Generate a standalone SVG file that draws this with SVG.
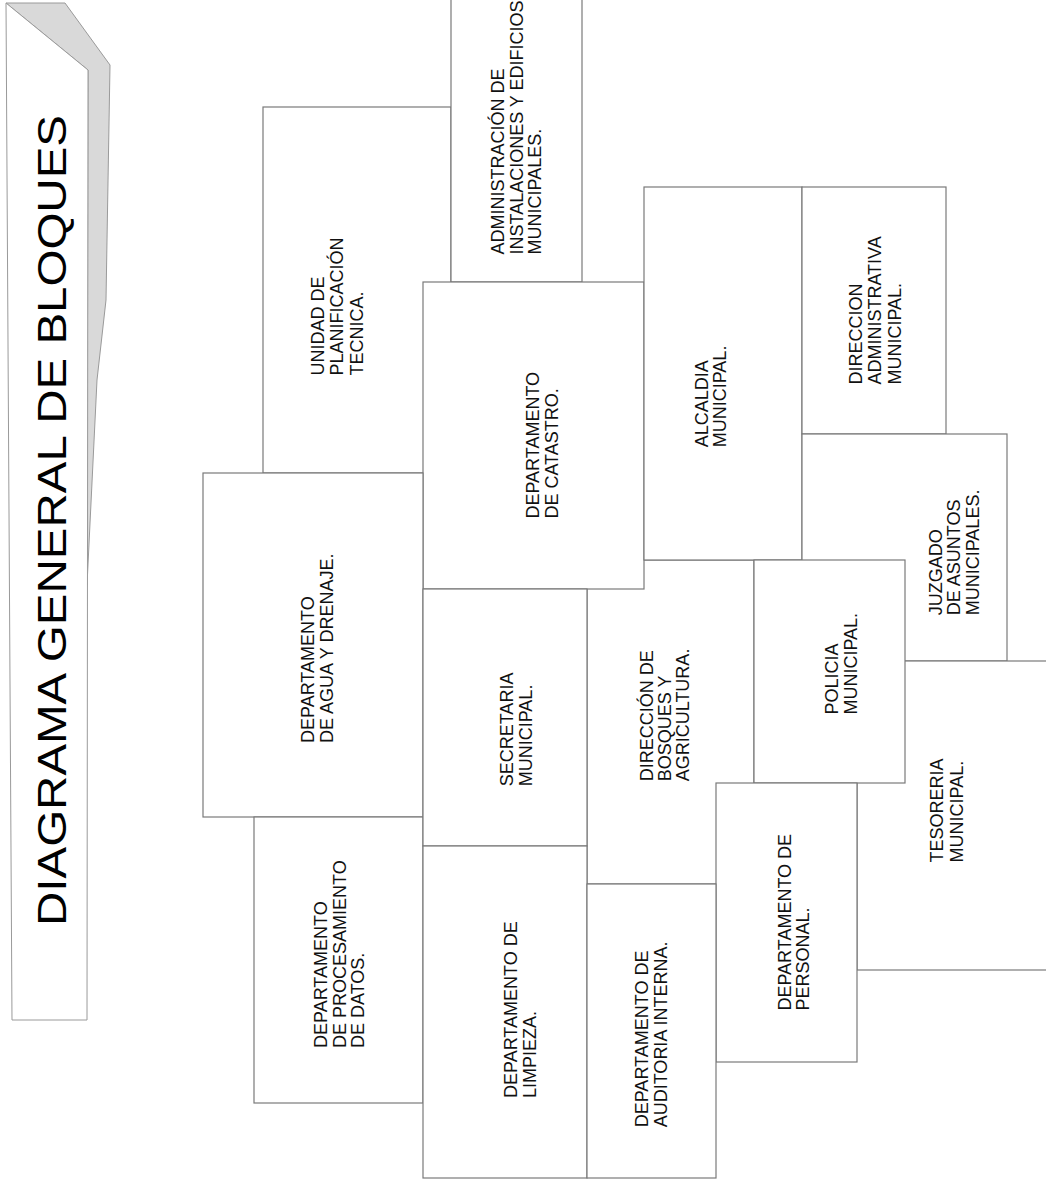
<svg xmlns="http://www.w3.org/2000/svg" width="1046" height="1184" viewBox="0 0 1046 1184">
<style>
.box{fill:#ffffff;stroke:#7a7a7a;stroke-width:1.2}
.lbl{font-family:"Liberation Sans",Arial,sans-serif;font-size:18px;fill:#111111}
.ttl{font-family:"Liberation Sans",Arial,sans-serif;font-size:41px;fill:#000000}
</style>
<rect x="0" y="0" width="1046" height="1184" fill="#ffffff"/>
<g id="title">
<polygon points="6,3 65,3 110,65 106,300 97,380 87,585 88,70" fill="#d9d9d9" stroke="#9a9a9a" stroke-width="1"/>
<polygon points="6,3 88,70 87,1020 12,1020" fill="#ffffff" stroke="#9a9a9a" stroke-width="1"/>
<text class="ttl" transform="translate(66,926) rotate(-90)" textLength="811" lengthAdjust="spacingAndGlyphs">DIAGRAMA GENERAL DE BLOQUES</text>
</g>
<g id="connectors"></g>
<g id="unidad">
<rect class="box" x="263" y="107" width="188" height="366"/>
<text class="lbl" transform="translate(323.5,375.5) rotate(-90)"><tspan x="0">UNIDAD DE</tspan><tspan x="0" dy="19.5">PLANIFICACIÓN</tspan><tspan x="0" dy="19.5">TECNICA.</tspan></text>
</g>
<g id="admin-instalaciones">
<rect class="box" x="451" y="-5" width="131" height="287"/>
<text class="lbl" transform="translate(504,254.5) rotate(-90)"><tspan x="0">ADMINISTRACIÓN DE</tspan><tspan x="0" dy="18.5">INSTALACIONES Y EDIFICIOS</tspan><tspan x="0" dy="18.5">MUNICIPALES.</tspan></text>
</g>
<g id="bosques">
<rect class="box" x="587" y="560" width="167" height="324"/>
<text class="lbl" transform="translate(652.7,781.3) rotate(-90)"><tspan x="0">DIRECCIÓN DE</tspan><tspan x="0" dy="18.3">BOSQUES Y</tspan><tspan x="0" dy="18.3">AGRICULTURA.</tspan></text>
</g>
<g id="catastro">
<rect class="box" x="423" y="282" width="221" height="307"/>
<text class="lbl" transform="translate(539.3,518.6) rotate(-90)"><tspan x="0">DEPARTAMENTO</tspan><tspan x="0" dy="19">DE CATASTRO.</tspan></text>
</g>
<g id="alcaldia">
<rect class="box" x="644" y="187" width="158" height="373"/>
<text class="lbl" transform="translate(707.7,447.3) rotate(-90)"><tspan x="0">ALCALDIA</tspan><tspan x="0" dy="18.3">MUNICIPAL.</tspan></text>
</g>
<g id="direccion-administrativa">
<rect class="box" x="802" y="187" width="144" height="247"/>
<text class="lbl" transform="translate(862.3,384.6) rotate(-90)"><tspan x="0">DIRECCION</tspan><tspan x="0" dy="19.2">ADMINISTRATIVA</tspan><tspan x="0" dy="19.2">MUNICIPAL.</tspan></text>
</g>
<g id="juzgado">
<rect class="box" x="802" y="434" width="205" height="227"/>
<text class="lbl" transform="translate(941.7,615.3) rotate(-90)"><tspan x="0">JUZGADO</tspan><tspan x="0" dy="18.7">DE ASUNTOS</tspan><tspan x="0" dy="18.7">MUNICIPALES.</tspan></text>
</g>
<g id="tesoreria">
<rect class="box" x="857" y="661" width="200" height="309"/>
<text class="lbl" transform="translate(943.3,862.5) rotate(-90)"><tspan x="0">TESORERIA</tspan><tspan x="0" dy="19.4">MUNICIPAL.</tspan></text>
</g>
<g id="policia">
<rect class="box" x="754" y="560" width="151" height="223"/>
<text class="lbl" transform="translate(838.3,714.6) rotate(-90)"><tspan x="0">POLICIA</tspan><tspan x="0" dy="19">MUNICIPAL.</tspan></text>
</g>
<g id="personal">
<rect class="box" x="716" y="783" width="141" height="279"/>
<text class="lbl" transform="translate(790.7,1010.6) rotate(-90)"><tspan x="0">DEPARTAMENTO DE</tspan><tspan x="0" dy="18.6">PERSONAL.</tspan></text>
</g>
<g id="agua">
<rect class="box" x="203" y="473" width="220" height="344"/>
<text class="lbl" transform="translate(314,743) rotate(-90)"><tspan x="0">DEPARTAMENTO</tspan><tspan x="0" dy="19.3">DE AGUA Y DRENAJE.</tspan></text>
</g>
<g id="procesamiento">
<rect class="box" x="254" y="817" width="169" height="286"/>
<text class="lbl" transform="translate(327.3,1048) rotate(-90)"><tspan x="0">DEPARTAMENTO</tspan><tspan x="0" dy="18.4">DE PROCESAMIENTO</tspan><tspan x="0" dy="18.4">DE DATOS.</tspan></text>
</g>
<g id="secretaria">
<rect class="box" x="423" y="589" width="164" height="257"/>
<text class="lbl" transform="translate(513.3,786.3) rotate(-90)"><tspan x="0">SECRETARIA</tspan><tspan x="0" dy="18.4">MUNICIPAL.</tspan></text>
</g>
<g id="limpieza">
<rect class="box" x="423" y="846" width="164" height="332"/>
<text class="lbl" transform="translate(517.3,1098) rotate(-90)"><tspan x="0">DEPARTAMENTO DE</tspan><tspan x="0" dy="18.4">LIMPIEZA.</tspan></text>
</g>
<g id="auditoria">
<rect class="box" x="587" y="884" width="129" height="294"/>
<text class="lbl" transform="translate(648.3,1127.3) rotate(-90)"><tspan x="0">DEPARTAMENTO DE</tspan><tspan x="0" dy="18.4">AUDITORIA INTERNA.</tspan></text>
</g>
</svg>
